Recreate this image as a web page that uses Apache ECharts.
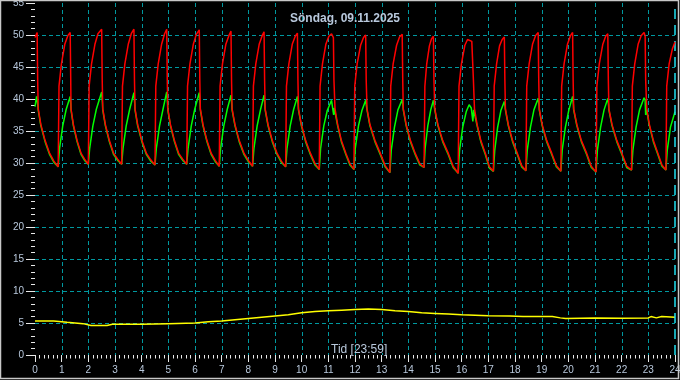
<!DOCTYPE html>
<html>
<head>
<meta charset="utf-8">
<script src="https://cdn.jsdelivr.net/npm/echarts@6/dist/echarts.min.js"></script>
<style>
html,body{margin:0;padding:0;background:#000;}
#c{width:680px;height:380px;}
</style>
</head>
<body>
<div id="c"></div>
<script>
const titleText = 'Söndag, 09.11.2025';
const xName = 'Tid [23:59]';
const yName = '°C';
const xTicks = [0,1,2,3,4,5,6,7,8,9,10,11,12,13,14,15,16,17,18,19,20,21,22,23,24];
const yTicks = [0,5,10,15,20,25,30,35,40,45,50,55];

// Flow (red) [hour, °C]
const redSeries = [
[0,49.6],[0.08,50.4],[0.10,43.0],[0.12,38.5],[0.22,36.0],[0.38,33.5],[0.55,31.5],[0.71,30.3],
[0.87,29.4],[0.90,42.0],[0.99,45.5],[1.12,48.6],[1.23,49.9],[1.32,50.4],[1.34,43.0],[1.35,38.5],[1.44,36.0],[1.58,33.5],[1.73,31.5],[1.86,30.6],
[2.00,29.8],[2.03,42.0],[2.12,45.5],[2.25,48.6],[2.36,50.2],[2.50,50.9],[2.52,43.0],[2.54,38.5],[2.64,36.0],[2.79,33.5],[2.95,31.5],[3.10,30.6],
[3.25,29.8],[3.28,42.0],[3.37,45.5],[3.50,48.6],[3.61,50.2],[3.71,50.9],[3.73,43.0],[3.75,38.5],[3.85,36.0],[4.01,33.5],[4.18,31.5],[4.34,30.5],
[4.50,29.7],[4.53,42.0],[4.62,45.5],[4.75,48.6],[4.86,50.2],[4.94,50.9],[4.96,43.0],[4.98,38.5],[5.08,36.0],[5.23,33.5],[5.39,31.5],[5.54,30.6],
[5.69,29.8],[5.72,42.0],[5.81,45.5],[5.94,48.6],[6.05,50.1],[6.16,50.8],[6.18,43.0],[6.20,38.5],[6.30,36.0],[6.45,33.5],[6.61,31.5],[6.76,30.4],
[6.91,29.5],[6.94,42.0],[7.03,45.5],[7.16,48.6],[7.27,49.9],[7.35,50.6],[7.37,43.0],[7.39,38.5],[7.50,36.0],[7.66,33.5],[7.84,31.5],[8.00,30.4],
[8.16,29.5],[8.19,42.0],[8.28,45.5],[8.41,48.6],[8.52,49.9],[8.59,50.5],[8.61,43.0],[8.63,38.5],[8.74,36.0],[8.90,33.5],[9.08,31.5],[9.24,30.3],
[9.40,29.4],[9.43,42.0],[9.52,45.5],[9.65,48.6],[9.76,49.8],[9.84,50.3],[9.86,43.0],[9.88,38.5],[9.99,36.0],[10.15,33.5],[10.33,31.5],[10.50,29.9],
[10.66,29.0],[10.69,42.0],[10.78,45.5],[10.91,48.6],[11.02,49.8],[11.12,50.2],[11.19,49.6],[11.21,43.0],[11.25,38.5],[11.35,36.0],[11.49,33.5],[11.66,31.5],[11.81,29.9],
[11.96,29.0],[11.99,42.0],[12.08,45.5],[12.21,48.4],[12.32,49.6],[12.40,50.0],[12.42,43.0],[12.45,38.5],[12.56,36.0],[12.75,33.5],[12.95,31.5],[13.13,29.6],
[13.31,28.5],[13.34,42.0],[13.43,45.5],[13.56,48.4],[13.67,49.7],[13.77,50.1],[13.79,43.0],[13.81,38.5],[13.92,36.0],[14.08,33.5],[14.26,31.5],[14.43,29.9],
[14.59,29.3],[14.62,42.0],[14.69,45.5],[14.79,48.3],[14.87,49.4],[14.94,49.8],[14.96,43.0],[14.99,38.5],[15.11,36.0],[15.29,33.5],[15.50,31.5],[15.68,29.5],
[15.87,28.4],[15.90,42.0],[15.99,45.5],[16.12,48.4],[16.22,49.3],[16.28,49.5],[16.38,49.0],[16.44,43.0],[16.48,38.5],[16.58,36.0],[16.72,33.5],[16.89,31.5],[17.04,29.4],
[17.19,28.7],[17.22,42.0],[17.31,45.5],[17.42,48.3],[17.52,49.3],[17.60,49.7],[17.62,43.0],[17.64,38.5],[17.75,36.0],[17.91,33.5],[18.09,31.5],[18.25,29.6],
[18.41,28.8],[18.44,42.0],[18.53,45.5],[18.66,48.6],[18.77,49.9],[18.87,50.4],[18.89,43.0],[18.91,38.5],[19.02,36.0],[19.19,33.5],[19.38,31.5],[19.55,29.6],
[19.72,28.7],[19.75,42.0],[19.84,45.5],[19.97,48.6],[20.08,49.9],[20.16,50.4],[20.18,43.0],[20.20,38.5],[20.32,36.0],[20.49,33.5],[20.69,31.5],[20.86,29.5],
[21.04,28.6],[21.07,42.0],[21.16,45.5],[21.29,48.5],[21.40,49.8],[21.48,50.2],[21.50,43.0],[21.52,38.5],[21.64,36.0],[21.82,33.5],[22.01,31.5],[22.19,29.5],
[22.37,28.9],[22.40,42.0],[22.49,45.5],[22.62,48.6],[22.73,49.9],[22.84,50.4],[22.88,49.8],[22.90,43.0],[22.94,38.5],[23.04,36.0],[23.19,33.5],[23.36,31.5],[23.51,29.7],
[23.66,28.9],[23.69,42.0],[23.78,45.5],[23.90,47.8],[24.00,48.9]
];

// Return (green) [hour, °C]
const greenSeries = [
[0,38.8],[0.06,40.4],[0.10,39.2],[0.12,38.3],[0.22,35.8],[0.38,33.3],[0.55,31.3],[0.71,30.1],
[0.87,29.4],[0.92,32.3],[1.04,35.8],[1.17,38.4],[1.32,40.4],[1.34,39.2],[1.35,38.3],[1.44,35.8],[1.58,33.3],[1.73,31.3],[1.86,30.4],
[2.00,29.8],[2.05,32.3],[2.17,35.8],[2.30,38.4],[2.50,41.1],[2.53,39.3],[2.54,38.3],[2.64,35.8],[2.79,33.3],[2.95,31.3],[3.10,30.4],
[3.25,29.8],[3.30,32.3],[3.42,35.8],[3.55,38.4],[3.71,41.0],[3.74,39.3],[3.75,38.3],[3.85,35.8],[4.01,33.3],[4.18,31.3],[4.34,30.3],
[4.50,29.7],[4.55,32.3],[4.67,35.8],[4.80,38.4],[4.94,41.1],[4.97,39.3],[4.98,38.3],[5.08,35.8],[5.23,33.3],[5.39,31.3],[5.54,30.4],
[5.69,29.8],[5.74,32.3],[5.86,35.8],[5.99,38.4],[6.16,41.0],[6.19,39.3],[6.20,38.3],[6.30,35.8],[6.45,33.3],[6.61,31.3],[6.76,30.2],
[6.91,29.5],[6.96,32.3],[7.08,35.8],[7.21,38.4],[7.35,40.6],[7.38,39.1],[7.39,38.3],[7.50,35.8],[7.66,33.3],[7.84,31.3],[8.00,30.2],
[8.16,29.5],[8.21,32.3],[8.33,35.8],[8.46,38.4],[8.59,40.6],[8.62,39.1],[8.63,38.3],[8.74,35.8],[8.90,33.3],[9.08,31.3],[9.24,30.1],
[9.40,29.4],[9.45,32.3],[9.57,35.8],[9.70,38.4],[9.84,40.4],[9.87,39.0],[9.88,38.3],[9.99,35.8],[10.15,33.3],[10.33,31.3],[10.50,29.7],
[10.66,29.0],[10.71,32.3],[10.83,35.8],[10.96,38.2],[11.12,39.8],[11.17,39.6],[11.20,37.5],[11.22,38.6],[11.25,38.3],[11.35,35.8],[11.49,33.3],[11.66,31.3],[11.81,29.7],
[11.96,29.0],[12.01,32.3],[12.13,35.8],[12.26,38.2],[12.40,39.8],[12.43,38.9],[12.45,38.3],[12.56,35.8],[12.75,33.3],[12.95,31.3],[13.13,29.4],
[13.31,28.5],[13.36,32.0],[13.48,35.6],[13.61,38.3],[13.77,39.9],[13.80,38.9],[13.81,38.3],[13.92,35.8],[14.08,33.3],[14.26,31.3],[14.43,29.7],
[14.59,29.3],[14.63,32.3],[14.73,35.8],[14.84,38.3],[14.94,39.8],[14.97,38.9],[14.99,38.3],[15.11,35.8],[15.29,33.3],[15.50,31.3],[15.68,29.3],
[15.87,28.4],[15.92,32.0],[16.04,35.6],[16.17,38.0],[16.28,39.1],[16.36,38.6],[16.42,36.5],[16.45,38.3],[16.48,38.3],[16.58,35.8],[16.72,33.3],[16.89,31.3],[17.04,29.2],
[17.19,28.7],[17.24,32.0],[17.35,35.6],[17.47,38.2],[17.60,39.6],[17.63,38.8],[17.64,38.3],[17.75,35.8],[17.91,33.3],[18.09,31.3],[18.25,29.4],
[18.41,28.8],[18.46,32.0],[18.58,35.6],[18.71,38.3],[18.87,40.1],[18.90,39.0],[18.91,38.3],[19.02,35.8],[19.19,33.3],[19.38,31.3],[19.55,29.4],
[19.72,28.7],[19.77,32.0],[19.89,35.6],[20.02,38.3],[20.16,40.4],[20.19,39.1],[20.20,38.3],[20.32,35.8],[20.49,33.3],[20.69,31.3],[20.86,29.3],
[21.04,28.6],[21.09,32.0],[21.21,35.6],[21.34,38.3],[21.48,40.1],[21.51,39.0],[21.52,38.3],[21.64,35.8],[21.82,33.3],[22.01,31.3],[22.19,29.3],
[22.37,28.9],[22.42,32.0],[22.54,35.6],[22.67,38.3],[22.84,40.2],[22.88,39.8],[22.90,37.5],[22.92,38.6],[22.94,38.3],[23.04,35.8],[23.19,33.3],[23.36,31.3],[23.51,29.5],
[23.66,28.9],[23.71,32.0],[23.83,35.6],[24.00,38.0]
];

// Outdoor (yellow) [hour, °C]
const yellowSeries = [
[0,5.3],[0.7,5.3],[1.2,5.1],[1.8,4.9],[2.1,4.6],[2.7,4.6],[2.9,4.8],[4,4.8],[5,4.9],[6,5.0],[6.5,5.2],[7,5.3],[7.5,5.5],[8,5.7],[8.5,5.9],[9,6.1],[9.5,6.3],[10,6.6],[10.5,6.8],[11,6.9],[11.5,7.0],[12,7.1],[12.5,7.2],[13,7.1],[13.5,6.9],[14,6.8],[14.5,6.6],[15,6.5],[15.5,6.4],[16,6.3],[17,6.15],[17.8,6.1],[18.3,6.0],[19.4,6.0],[19.7,5.8],[19.9,5.7],[21,5.8],[22,5.75],[23,5.8],[23.1,6.0],[23.3,5.8],[23.5,6.0],[24,5.9]
];

const nowMarker = [24];

const txt = '#b8c8dc';
const gridCol = '#00989f';
const xMin = xTicks[0], xMax = xTicks[xTicks.length-1];
const yMin = yTicks[0], yMax = yTicks[yTicks.length-1];

// grid line list: [orientation (0 = vertical at hour, 1 = horizontal at °C), value]
const gridLines = xTicks.filter(h => h > xMin && h < xMax).map(h => [0, h])
  .concat(yTicks.filter(v => v > yMin && v < yMax).map(v => [1, v]));

const chart = echarts.init(document.getElementById('c'), null, {renderer:'canvas'});
chart.setOption({
  animation: false,
  backgroundColor: '#000',
  title: {
    text: titleText, left: 340, top: 8, textAlign: 'center',
    textStyle: {color: txt, fontSize: 12, fontWeight: 'bold', fontFamily: 'Liberation Sans'}
  },
  graphic: [
    {type:'rect', shape:{x:0.5,y:0.5,width:678,height:378}, style:{fill:null, stroke:'#c8c8c8', lineWidth:1.5}, z:100},
    {type:'text', left: 331, top: 344, style:{text: xName, fill: txt, font: '12px "Liberation Sans"'}, z:50}
  ],
  grid: {left: 35, right: 5, top: 3, bottom: 25, containLabel: false, outerBoundsMode: 'none'},
  xAxis: {
    type: 'value', min: xMin, max: xMax, interval: 1,
    axisLine: {show: false},
    axisTick: {show: true, length: 7, lineStyle: {color: '#e8e8e8'}},
    minorTick: {show: true, splitNumber: 6, length: 3.5, lineStyle: {color: '#e8e8e8'}},
    minorSplitLine: {show: false},
    axisLabel: {color: txt, fontSize: 10, margin: 10, fontFamily: 'Liberation Sans'},
    splitLine: {show: false}
  },
  yAxis: {
    type: 'value', min: yMin, max: yMax, interval: 5,
    name: yName, nameLocation: 'middle', nameGap: 26, nameRotate: 90,
    nameTextStyle: {color: txt, fontSize: 11, fontWeight: 'bold', fontFamily: 'Liberation Sans'},
    axisLine: {show: false},
    axisTick: {show: true, length: 9, lineStyle: {color: '#e8e8e8'}},
    minorTick: {show: true, splitNumber: 5, length: 4, lineStyle: {color: '#e8e8e8'}},
    minorSplitLine: {show: false},
    axisLabel: {color: txt, fontSize: 10, margin: 11, fontFamily: 'Liberation Sans'},
    splitLine: {show: false}
  },
  series: [
    {type:'custom', silent:true, z:1, clip:false, data: gridLines,
      encode: {x: -1, y: -1},
      renderItem: (params, api) => {
        const kind = api.value(0), v = api.value(1);
        if (kind === 0) {
          const b = api.coord([v, yMin]);
          const t = api.coord([v, yMax]);
          const x = Math.round(b[0]) + 0.5;
          return {type:'line', shape:{x1:x, y1:t[1], x2:x, y2:b[1]}, style:{stroke:gridCol, lineWidth:1, lineDash:[4,3]}};
        }
        const l = api.coord([xMin, v]);
        const r = api.coord([xMax, v]);
        const y = Math.round(l[1]) + 0.5;
        return {type:'line', shape:{x1:l[0], y1:y, x2:r[0], y2:y}, style:{stroke:gridCol, lineWidth:1, lineDash:[4,3]}};
      }},
    {type:'line', data: yellowSeries, symbol:'none', lineStyle:{color:'#ffff00', width:1.5}, z:3},
    {type:'line', data: greenSeries, symbol:'none', lineStyle:{color:'#00ff00', width:1.5}, z:4},
    {type:'line', data: redSeries, symbol:'none', lineStyle:{color:'#ff0000', width:1.5}, z:5,
      markLine: {silent:true, symbol:'none', label:{show:false},
        lineStyle:{color:'#20e0f0', type:[10,6], width:1.5},
        data: nowMarker.map(v => ({xAxis: v}))}}
  ]
});
</script>
</body>
</html>
